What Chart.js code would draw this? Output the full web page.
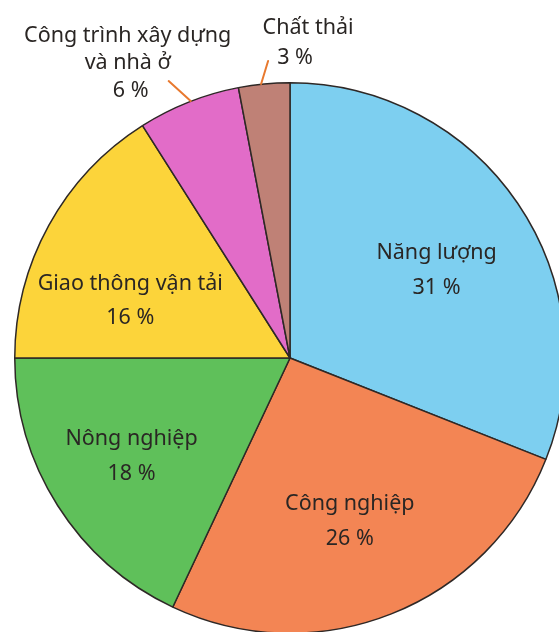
<!DOCTYPE html>
<html>
<head>
<meta charset="utf-8">
<script src="https://cdn.jsdelivr.net/npm/chart.js@4/dist/chart.umd.min.js"></script>
<style>
  html, body { margin: 0; padding: 0; background: #ffffff; overflow: hidden; width: 559px; height: 632px; }
  #c { position: absolute; left: 0; top: 0; }
</style>
</head>
<body>
<canvas id="c" width="580" height="716"></canvas>
<script>
// ---- data ----
const categories = ['Năng lượng', 'Công nghiệp', 'Nông nghiệp', 'Giao thông vận tải', 'Công trình xây dựng và nhà ở', 'Chất thải'];
const shares = [31, 26, 18, 16, 6, 3];
const labelLines = [
  ['Năng lượng'],
  ['Công nghiệp'],
  ['Nông nghiệp'],
  ['Giao thông vận tải'],
  ['Công trình xây dựng', 'và nhà ở'],
  ['Chất thải']
];
const sliceColors = ['#7dcff0', '#f38554', '#5fc05a', '#fcd43a', '#e26cc8', '#bf8176'];

// ---- label placement (style) ----
const labelStyle = [
  { f: 0.6, dx: 10,  dy: 5,   gap: 35, shifts: [0, 0] },
  { f: 0.6, dx: -1,  dy: 10,  gap: 35, shifts: [0, 0] },
  { f: 0.6, dx: -19, dy: 10,  gap: 35, shifts: [0, 0] },
  { f: 0.6, dx: -15, dy: 22,  gap: 34, shifts: [0, 0] },
  { f: 1.0, dx: -61, dy: -39, gap: 27.5, shifts: [0, 0, 3], leader: [[2, -1], [-20, -21]] },
  { f: 1.0, dx: 37,  dy: -41, gap: 30, shifts: [7, -6], leader: [[-3, 0], [4, -23]] }
];

const labelPlugin = {
  id: 'sliceLabels',
  afterDatasetsDraw(chart) {
    const ctx = chart.ctx;
    const meta = chart.getDatasetMeta(0);
    ctx.save();
    meta.data.forEach((arc, i) => {
      const p = arc.getProps(['x', 'y', 'startAngle', 'endAngle', 'outerRadius'], true);
      const mid = (p.startAngle + p.endAngle) / 2;
      const st = labelStyle[i];
      const bx = p.x + Math.cos(mid) * p.outerRadius * st.f;
      const by = p.y + Math.sin(mid) * p.outerRadius * st.f;
      if (st.leader) {
        ctx.strokeStyle = '#e8792f';
        ctx.lineWidth = 2;
        ctx.lineCap = 'round';
        ctx.beginPath();
        ctx.moveTo(bx + st.leader[0][0], by + st.leader[0][1]);
        ctx.lineTo(bx + st.leader[1][0], by + st.leader[1][1]);
        ctx.stroke();
      }
      const lines = labelLines[i].concat([shares[i] + ' %']);
      const cx = bx + st.dx;
      const cy = by + st.dy;
      const top = cy - (lines.length - 1) * st.gap / 2;
      ctx.fillStyle = '#2a2624';
      ctx.font = '21.5px "Noto Sans", sans-serif';
      ctx.textAlign = 'center';
      ctx.textBaseline = 'middle';
      lines.forEach((t, k) => {
        ctx.fillText(t, cx + (st.shifts[k] || 0), top + k * st.gap);
      });
    });
    ctx.restore();
  }
};

new Chart(document.getElementById('c'), {
  type: 'pie',
  data: {
    labels: categories,
    datasets: [{
      data: shares,
      backgroundColor: sliceColors,
      borderColor: '#2e2826',
      borderWidth: 1.5
    }]
  },
  options: {
    responsive: false,
    animation: false,
    devicePixelRatio: 1,
    layout: { padding: { left: 14, right: 14, top: 82, bottom: 82 } },
    plugins: {
      legend: { display: false },
      tooltip: { enabled: false }
    }
  },
  plugins: [labelPlugin]
});
</script>
</body>
</html>
